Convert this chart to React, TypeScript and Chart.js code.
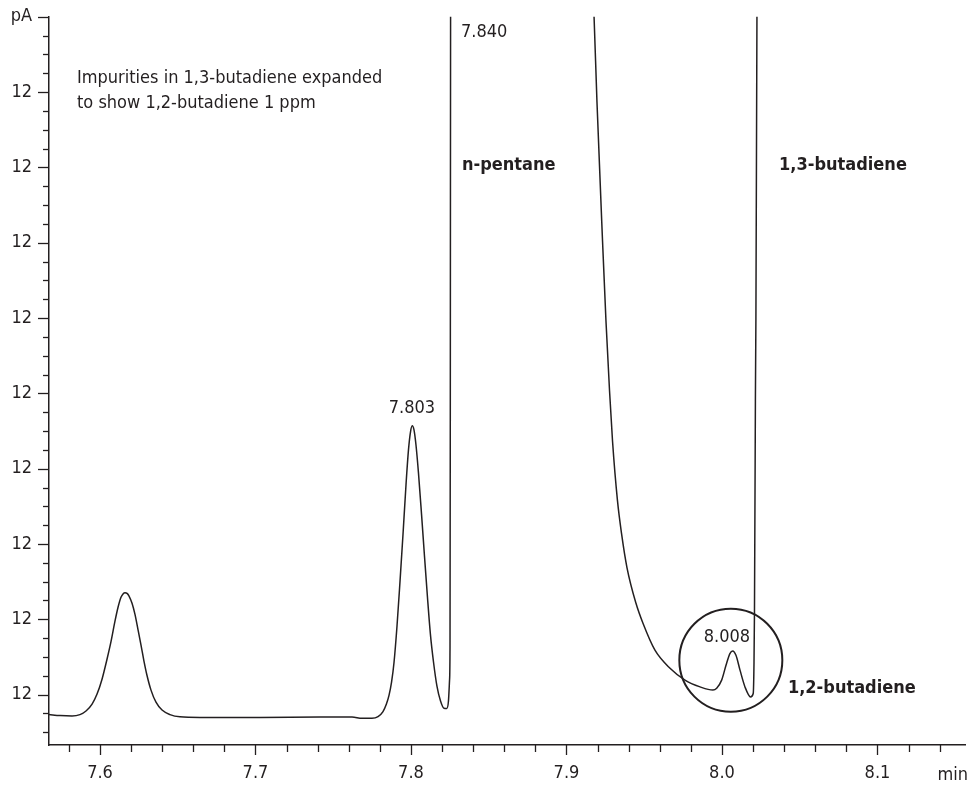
import React, { useEffect, useRef } from "react";
import { Chart, registerables } from "chart.js";

Chart.register(...registerables);

// ---- data (x in min, y in signal units; one minor y tick = 1 unit) ----
const traceX: number[] = [
  // baseline + peak at 7.616
  7.5672, 7.5743, 7.582, 7.5871, 7.591, 7.5949, 7.5981, 7.6013, 7.6045, 7.6071,
  7.6096, 7.6116, 7.6135, 7.6148, 7.6161, 7.6174, 7.6186, 7.6206, 7.6225, 7.6244,
  7.6264, 7.6283, 7.6302, 7.6328, 7.636, 7.6399, 7.645, 7.6514, 7.6643, 7.7029,
  7.7415, 7.7621, 7.7685, 7.7749,
  // peak 7.803
  7.7788, 7.782, 7.7842, 7.7859, 7.7875, 7.7891, 7.791, 7.7929, 7.7949, 7.7968,
  7.7984, 7.7997, 7.8008, 7.8019, 7.8032, 7.8048, 7.8068, 7.8087, 7.8106, 7.8125,
  7.8145, 7.8167, 7.819, 7.8212, 7.823, 7.8241, 7.8248, 7.8251, 7.8253, 7.8255,
  // n-pentane (off scale, apex 7.840) and its tail
  7.84, 7.905, 7.9177, 7.9196, 7.9232, 7.9254, 7.9277, 7.9296, 7.9328, 7.9354,
  7.9389, 7.9447, 7.9492, 7.9569, 7.9666, 7.9762, 7.9859, 7.9942,
  // 1,2-butadiene 8.008 and 1,3-butadiene front
  7.9966, 7.9998, 8.0026, 8.0051, 8.0069, 8.009, 8.0116, 8.0148, 8.0184, 8.0201,
  8.0206, 8.0209, 8.0215, 8.0225, 8.0227,
];
const traceY: number[] = [
  -1.06, -1.11, -1.13, -1.06, -0.87, -0.5, 0.03, 0.82, 1.88, 2.83,
  3.89, 4.64, 5.17, 5.35, 5.41, 5.38, 5.25, 4.85, 4.26, 3.47,
  2.62, 1.77, 1.03, 0.24, -0.4, -0.82, -1.06, -1.18, -1.21, -1.21,
  -1.19, -1.19, -1.26, -1.26,
  -1.17, -0.9, -0.5, -0.03, 0.66, 1.72, 3.63, 5.96, 8.56, 11.15,
  13.01, 13.96, 14.28, 14.07, 13.27, 11.79, 9.56, 7.34, 5.17, 3.2,
  1.72, 0.45, -0.34, -0.72, -0.73, -0.34, 0.77, 2.53, 16.66, 39.4,
  200, 60, 36.1, 31.5, 24.08, 19.84, 16.13, 13.48, 10.3, 8.56,
  6.75, 4.85, 3.79, 2.36, 1.4, 0.77, 0.41, 0.24,
  0.34, 0.77, 1.56, 2.18, 2.32, 2.09, 1.3, 0.41, -0.12, 0.06,
  1.67, 4.32, 15.6, 36.1, 52.7,
];

const xMin = 7.5672;
const xMax = 8.1563;
const yMin = -2.675;
const yMax = 36;

const xMinorTicks: number[] = [
  7.58, 7.6, 7.62, 7.64, 7.66, 7.68, 7.7, 7.72, 7.74, 7.76, 7.78, 7.8, 7.82, 7.84,
  7.86, 7.88, 7.9, 7.92, 7.94, 7.96, 7.98, 8.0, 8.02, 8.04, 8.06, 8.08, 8.1, 8.12, 8.14,
];
const xMajorTicks: number[] = [7.6, 7.7, 7.8, 7.9, 8.0, 8.1];
const xTickLabels: string[] = ["7.6", "7.7", "7.8", "7.9", "8.0", "8.1"];
const xUnit = "min";

const yMajorTicks: number[] = [0, 4, 8, 12, 16, 20, 24, 28, 32, 36];
const yTickLabels: string[] = ["12", "12", "12", "12", "12", "12", "12", "12", "12", "pA"];
const yMinorTicks: number[] = [
  -2, -1, 1, 2, 3, 5, 6, 7, 9, 10, 11, 13, 14, 15, 17, 18, 19, 21, 22, 23, 25, 26, 27,
  29, 30, 31, 33, 34, 35,
];

const labelTexts: string[] = [
  "Impurities in 1,3-butadiene expanded",
  "to show 1,2-butadiene 1 ppm",
  "7.840",
  "n-pentane",
  "1,3-butadiene",
  "7.803",
  "8.008",
  "1,2-butadiene",
];
const labelX: number[] = [7.5852, 7.5852, 7.8322, 7.8328, 8.0367, 7.8006, 8.0032, 8.0424];
const labelY: number[] = [32.72, 31.39, 35.2, 28.1, 28.1, 15.23, 3.05, 0.34];
const labelAlign: CanvasTextAlign[] = ["left", "left", "left", "left", "left", "center", "center", "left"];
const labelBold: boolean[] = [false, false, false, true, true, false, false, true];

const circleCenter: number[] = [8.0057, 1.83];

const FONT = "'Liberation Sans Narrow', 'DejaVu Sans Condensed', 'Roboto', sans-serif";
const INK = "#231f20";

const decorPlugin = {
  id: "decor",
  afterDraw(chart: any) {
    const { ctx, scales, chartArea } = chart;
    const xs = scales.x;
    const ys = scales.y;
    ctx.save();
    ctx.strokeStyle = INK;
    ctx.lineWidth = 1.3;
    const xb = chartArea.bottom;
    xMinorTicks.forEach((v) => {
      const px = Math.round(xs.getPixelForValue(v)) + 0.5;
      const major = xMajorTicks.some((m) => Math.abs(m - v) < 1e-6);
      ctx.beginPath();
      ctx.moveTo(px, xb);
      ctx.lineTo(px, xb + (major ? 10 : 7));
      ctx.stroke();
    });
    const yl = chartArea.left;
    yMajorTicks.forEach((v) => {
      const py = Math.round(ys.getPixelForValue(v)) + 0.5;
      ctx.beginPath();
      ctx.moveTo(yl - 11, py);
      ctx.lineTo(yl, py);
      ctx.stroke();
    });
    yMinorTicks.forEach((v) => {
      const py = Math.round(ys.getPixelForValue(v)) + 0.5;
      ctx.beginPath();
      ctx.moveTo(yl - 6, py);
      ctx.lineTo(yl, py);
      ctx.stroke();
    });
    ctx.fillStyle = INK;
    ctx.textBaseline = "middle";
    labelTexts.forEach((t, i) => {
      ctx.font = `${labelBold[i] ? "bold " : ""}18px ${FONT}`;
      ctx.textAlign = labelAlign[i];
      ctx.fillText(t, xs.getPixelForValue(labelX[i]), ys.getPixelForValue(labelY[i]));
    });
    ctx.font = `18px ${FONT}`;
    ctx.textAlign = "right";
    ctx.fillText(xUnit, xs.getPixelForValue(xMax) + 3, xb + 30);
    ctx.lineWidth = 2;
    ctx.beginPath();
    ctx.arc(xs.getPixelForValue(circleCenter[0]), ys.getPixelForValue(circleCenter[1]), 51.5, 0, Math.PI * 2);
    ctx.stroke();
    ctx.restore();
  },
};

export default function App() {
  const ref = useRef<HTMLCanvasElement | null>(null);
  useEffect(() => {
    if (!ref.current) return;
    const data = traceX.map((x, i) => ({ x, y: traceY[i] }));
    const chart = new Chart(ref.current, {
      type: "line",
      data: {
        datasets: [
          {
            data,
            borderColor: INK,
            borderWidth: 1.5,
            pointRadius: 0,
            fill: false,
            cubicInterpolationMode: "monotone",
          },
        ],
      },
      options: {
        animation: false,
        responsive: false,
        events: [],
        layout: { padding: { top: 15, right: 5, left: 0, bottom: 0 } },
        plugins: { legend: { display: false }, tooltip: { enabled: false } },
        scales: {
          x: {
            type: "linear",
            min: xMin,
            max: xMax,
            afterFit: (s: any) => {
              s.height = 42;
            },
            afterBuildTicks: (s: any) => {
              s.ticks = xMajorTicks.map((v) => ({ value: v }));
            },
            grid: { display: false, drawTicks: true, tickLength: 10 },
            border: { display: true, color: INK, width: 1.5 },
            ticks: {
              autoSkip: false,
              maxRotation: 0,
              padding: 8,
              color: INK,
              font: { family: FONT, size: 18 },
              callback: (v: any) => {
                const i = xMajorTicks.findIndex((m) => Math.abs(m - Number(v)) < 1e-6);
                return i >= 0 ? xTickLabels[i] : "";
              },
            },
          },
          y: {
            type: "linear",
            min: yMin,
            max: yMax,
            afterFit: (s: any) => {
              s.width = 49;
            },
            afterBuildTicks: (s: any) => {
              s.ticks = yMajorTicks.map((v) => ({ value: v }));
            },
            grid: { display: false, drawTicks: true, tickLength: 11 },
            border: { display: true, color: INK, width: 1.5 },
            ticks: {
              autoSkip: false,
              padding: 6,
              color: INK,
              font: { family: FONT, size: 18 },
              callback: (v: any) => {
                const i = yMajorTicks.findIndex((m) => Math.abs(m - Number(v)) < 1e-6);
                return i >= 0 ? yTickLabels[i] : "";
              },
            },
          },
        },
      },
      plugins: [decorPlugin],
    });
    return () => chart.destroy();
  }, []);
  return (
    <canvas
      ref={ref}
      width={970}
      height={787}
      style={{ position: "fixed", left: 0, top: 0, width: 970, height: 787, background: "#fff" }}
    />
  );
}
